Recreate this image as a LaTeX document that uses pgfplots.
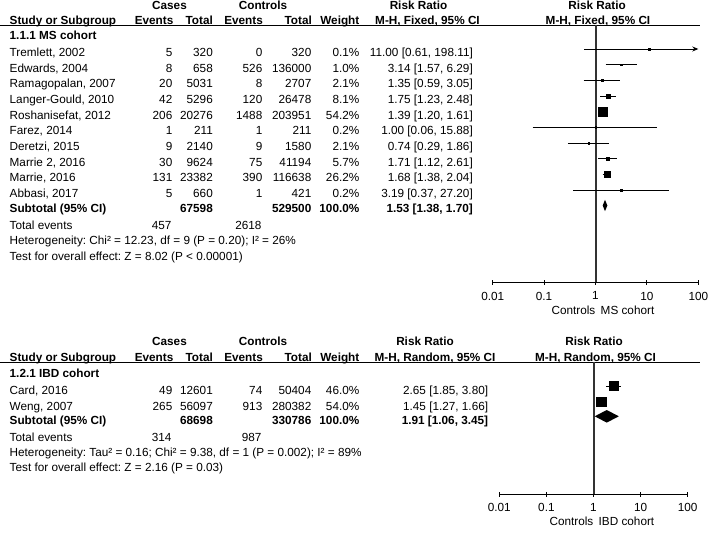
\documentclass[border=0pt]{standalone}
\usepackage{pgfplots}
\pgfplotsset{compat=1.18}
\usepackage{pgfplotstable}
\usetikzlibrary{arrows.meta}
\usepackage{fontspec}
\setmainfont{Liberation Sans}
\frenchspacing

\newcommand\tf{\fontsize{11.8}{14}\selectfont}

% one study row: baseline, name, cases ev, cases tot, ctrl ev, ctrl tot, weight, RR
\newcommand\studyrow[8]{%
  \node[tx,anchor=base west] at (9.5,-#1) {#2};
  \node[tx,anchor=base east] at (172.5,-#1) {#3};
  \node[tx,anchor=base east] at (213,-#1) {#4};
  \node[tx,anchor=base east] at (262.5,-#1) {#5};
  \node[tx,anchor=base east] at (311.5,-#1) {#6};
  \node[tx,anchor=base east] at (359.5,-#1) {#7};
  \node[tx,anchor=base east] at (\cicol,-#1) {#8};
}

% MS cohort: y = mark position (negative pixels from top), s = half side of square
\pgfplotstableread{
y      est    lo    hi      s
-49.0  11.00  0.61  198.11  0.8
-64.7  3.14   1.57  6.29    0.9
-80.3  1.35   0.59  3.05    0.9
-96.0  1.75   1.23  2.48    1.75
-111.7 1.39   1.20  1.61    4.5
-127.3 1.00   0.06  15.88   0.8
-143.0 0.74   0.29  1.86    0.9
-158.7 1.71   1.12  2.61    1.45
-174.4 1.68   1.38  2.04    3.1
-190.0 3.19   0.37  27.20   0.8
}\msdata

% IBD cohort
\pgfplotstableread{
y      est    lo    hi    s
-386.0 2.65   1.85  3.80  4.6
-401.7 1.45   1.27  1.66  5.0
}\ibddata

\pgfplotsset{
  fplot/.style={
    scale only axis, clip=false,
    xmin=0.01, xmax=100,
    axis x line*=bottom, axis y line=none,
    xtick={0.01,0.1,1,10,100}, xticklabels={0.01,0.1,1,10,100},
    xminorticks=false,
    tick align=center, major tick length=5bp,
    axis line style={black, line width=0.8bp},
    tick style={black, line width=1bp},
    tick label style={font=\tf},
    xticklabel style={yshift=-3.5bp},
  },
  sq/.style={
    scatter, only marks, mark=square*,
    visualization depends on={\thisrow{s} \as \msz},
    scatter/use mapped color={draw=black, fill=black},
    scatter/@pre marker code/.append style={/tikz/mark size=\msz, /tikz/line width=0.1bp},
  },
  noeffect/.style={black!80, line width=2bp},
}

\begin{document}
\begin{tikzpicture}[x=1bp, y=1bp, tx/.style={inner sep=0pt, font=\tf}]
\path[use as bounding box] (0,0) rectangle (709,-534);

% ---------- MS cohort ----------
\node[tx,anchor=base,font=\tf\bfseries] at (169.5,-9.3) {Cases};
\node[tx,anchor=base,font=\tf\bfseries] at (263,-9.3) {Controls};
\node[tx,anchor=base,font=\tf\bfseries] at (418.5,-9.3) {Risk Ratio};
\node[tx,anchor=base,font=\tf\bfseries] at (597,-9.3) {Risk Ratio};
\node[tx,anchor=base west,font=\tf\bfseries] at (9.5,-24.3) {Study or Subgroup};
\node[tx,anchor=base east,font=\tf\bfseries] at (173.5,-24.3) {Events};
\node[tx,anchor=base east,font=\tf\bfseries] at (213,-24.3) {Total};
\node[tx,anchor=base east,font=\tf\bfseries] at (263,-24.3) {Events};
\node[tx,anchor=base east,font=\tf\bfseries] at (312,-24.3) {Total};
\node[tx,anchor=base east,font=\tf\bfseries] at (359.5,-24.3) {Weight};
\node[tx,anchor=base,font=\tf\bfseries] at (427.5,-24.3) {M-H, Fixed, 95\% CI};
\node[tx,anchor=base,font=\tf\bfseries] at (598,-24.3) {M-H, Fixed, 95\% CI};
\draw[line width=0.8bp] (0,-25) -- (700,-25);
\node[tx,anchor=base west,font=\tf\bfseries] at (9.5,-40) {1.1.1 MS cohort};

\def\cicol{473}
\studyrow{56.5}{Tremlett, 2002}{5}{320}{0}{320}{0.1\%}{11.00 [0.61, 198.11]}
\studyrow{72.2}{Edwards, 2004}{8}{658}{526}{136000}{1.0\%}{3.14 [1.57, 6.29]}
\studyrow{87.8}{Ramagopalan, 2007}{20}{5031}{8}{2707}{2.1\%}{1.35 [0.59, 3.05]}
\studyrow{103.5}{Langer-Gould, 2010}{42}{5296}{120}{26478}{8.1\%}{1.75 [1.23, 2.48]}
\studyrow{119.2}{Roshanisefat, 2012}{206}{20276}{1488}{203951}{54.2\%}{1.39 [1.20, 1.61]}
\studyrow{134.8}{Farez, 2014}{1}{211}{1}{211}{0.2\%}{1.00 [0.06, 15.88]}
\studyrow{150.5}{Deretzi, 2015}{9}{2140}{9}{1580}{2.1\%}{0.74 [0.29, 1.86]}
\studyrow{166.2}{Marrie 2, 2016}{30}{9624}{75}{41194}{5.7\%}{1.71 [1.12, 2.61]}
\studyrow{181.9}{Marrie, 2016}{131}{23382}{390}{116638}{26.2\%}{1.68 [1.38, 2.04]}
\studyrow{197.5}{Abbasi, 2017}{5}{660}{1}{421}{0.2\%}{3.19 [0.37, 27.20]}
\begin{scope}[tx/.append style={font=\tf\bfseries}]
\studyrow{212.7}{Subtotal (95\% CI)}{}{67598}{}{529500}{100.0\%}{1.53 [1.38, 1.70]}
\end{scope}
\node[tx,anchor=base west] at (9.5,-230) {Total events};
\node[tx,anchor=base east] at (171.7,-230) {457};
\node[tx,anchor=base east] at (261.7,-230) {2618};
\node[tx,anchor=base west] at (9.5,-245) {Heterogeneity: Chi² = 12.23, df = 9 (P = 0.20); I² = 26\%};
\node[tx,anchor=base west] at (9.5,-260.7) {Test for overall effect: Z = 8.02 (P < 0.00001)};

\begin{axis}[xmode=log, fplot,
  at={(492.7bp,-282.3bp)}, anchor=south west,
  width=205.6bp, height=257.3bp,
  ymin=-282.3, ymax=-25]
\addplot[noeffect] coordinates {(1,-25) (1,-282.3)};
\addplot[black, line width=0.8bp, -{Stealth[length=6bp,width=5bp]}] coordinates {(0.61,-49.0) (100,-49.0)};
\addplot[black, line width=0.8bp, unbounded coords=jump] table {
x y
1.57 -64.7
6.29 -64.7
nan nan
0.59 -80.3
3.05 -80.3
nan nan
1.23 -96.0
2.48 -96.0
nan nan
1.20 -111.7
1.61 -111.7
nan nan
0.06 -127.3
15.88 -127.3
nan nan
0.29 -143.0
1.86 -143.0
nan nan
1.12 -158.7
2.61 -158.7
nan nan
1.38 -174.4
2.04 -174.4
nan nan
0.37 -190.0
27.20 -190.0
};
\addplot[sq] table[x=est, y=y] {\msdata};
\addplot[fill=black, draw=none] coordinates {(1.38,-205.5) (1.53,-199.8) (1.70,-205.5) (1.53,-211.2) (1.38,-205.5)};
\node[tx,anchor=east] at (axis cs:1,-310) {Controls\hspace{7bp}};
\node[tx,anchor=west] at (axis cs:1,-310) {\hspace{5bp}MS cohort};
\end{axis}

% ---------- IBD cohort ----------
\node[tx,anchor=base,font=\tf\bfseries] at (169.5,-345.7) {Cases};
\node[tx,anchor=base,font=\tf\bfseries] at (263,-345.7) {Controls};
\node[tx,anchor=base,font=\tf\bfseries] at (425,-345.7) {Risk Ratio};
\node[tx,anchor=base,font=\tf\bfseries] at (594,-345.7) {Risk Ratio};
\node[tx,anchor=base west,font=\tf\bfseries] at (9.5,-361) {Study or Subgroup};
\node[tx,anchor=base east,font=\tf\bfseries] at (173.5,-361) {Events};
\node[tx,anchor=base east,font=\tf\bfseries] at (213,-361) {Total};
\node[tx,anchor=base east,font=\tf\bfseries] at (263,-361) {Events};
\node[tx,anchor=base east,font=\tf\bfseries] at (312,-361) {Total};
\node[tx,anchor=base east,font=\tf\bfseries] at (359.5,-361) {Weight};
\node[tx,anchor=base,font=\tf\bfseries] at (435,-361) {M-H, Random, 95\% CI};
\node[tx,anchor=base,font=\tf\bfseries] at (595.5,-361) {M-H, Random, 95\% CI};
\draw[line width=0.8bp] (0,-362) -- (700,-362);
\node[tx,anchor=base west,font=\tf\bfseries] at (9.5,-377.7) {1.2.1 IBD cohort};

\def\cicol{488.3}
\studyrow{394.3}{Card, 2016}{49}{12601}{74}{50404}{46.0\%}{2.65 [1.85, 3.80]}
\studyrow{410}{Weng, 2007}{265}{56097}{913}{280382}{54.0\%}{1.45 [1.27, 1.66]}
\begin{scope}[tx/.append style={font=\tf\bfseries}]
\studyrow{424.3}{Subtotal (95\% CI)}{}{68698}{}{330786}{100.0\%}{1.91 [1.06, 3.45]}
\end{scope}
\node[tx,anchor=base west] at (9.5,-441.7) {Total events};
\node[tx,anchor=base east] at (171.7,-441.7) {314};
\node[tx,anchor=base east] at (261.7,-441.7) {987};
\node[tx,anchor=base west] at (9.5,-456.7) {Heterogeneity: Tau² = 0.16; Chi² = 9.38, df = 1 (P = 0.002); I² = 89\%};
\node[tx,anchor=base west] at (9.5,-471.7) {Test for overall effect: Z = 2.16 (P = 0.03)};

\begin{axis}[xmode=log, fplot,
  at={(499.3bp,-494bp)}, anchor=south west,
  width=188.4bp, height=132bp,
  ymin=-494, ymax=-362]
\addplot[noeffect] coordinates {(1,-362) (1,-494)};
\addplot[black, line width=0.8bp, unbounded coords=jump] table {
x y
1.85 -386.0
3.80 -386.0
nan nan
1.27 -401.7
1.66 -401.7
};
\addplot[sq] table[x=est, y=y] {\ibddata};
\addplot[fill=black, draw=none] coordinates {(1.06,-416.3) (1.91,-410.0) (3.45,-416.3) (1.91,-422.6) (1.06,-416.3)};
\node[tx,anchor=east] at (axis cs:1,-521.7) {Controls\hspace{7bp}};
\node[tx,anchor=west] at (axis cs:1,-521.7) {\hspace{5bp}IBD cohort};
\end{axis}
\end{tikzpicture}
\end{document}
